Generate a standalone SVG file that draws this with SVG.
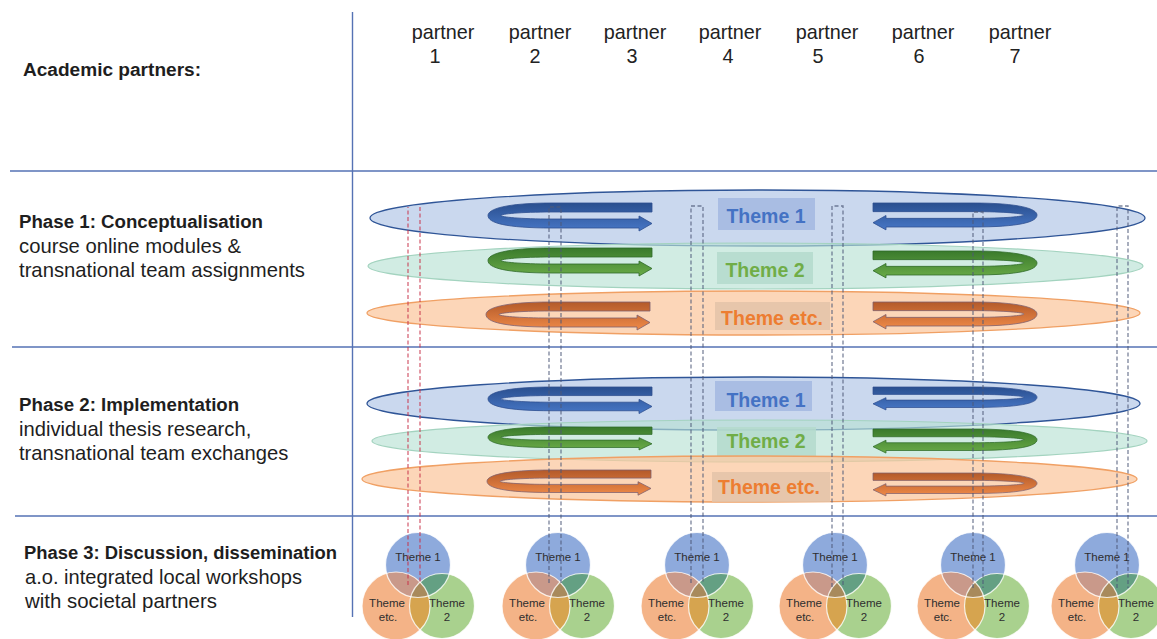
<svg xmlns="http://www.w3.org/2000/svg" xmlns:xlink="http://www.w3.org/1999/xlink" width="1157" height="639" viewBox="0 0 1157 639">
<style>
.grid{stroke:#5572b4;stroke-width:1.4;fill:none}
.lbl{font-family:"Liberation Sans",Arial,sans-serif;fill:#1e1e1e}
.b{font-weight:bold;font-size:18.7px}
.r{font-size:20.2px}
.ptn{font-family:"Liberation Sans",Arial,sans-serif;font-size:19.8px;fill:#222;text-anchor:middle}
.th{font-family:"Liberation Sans",Arial,sans-serif;font-weight:bold;font-size:19.5px;text-anchor:middle}
.vt{font-family:"Liberation Sans",Arial,sans-serif;font-size:11.5px;fill:#2e2e2e;text-anchor:middle}
.eb{fill:#b4c7e7;fill-opacity:.7;stroke:#2f5597;stroke-width:1.3}
.eg{fill:#b9e2d4;fill-opacity:.65;stroke:#a3d3bf;stroke-width:1.2}
.eo{fill:#fbc49a;fill-opacity:.7;stroke:#f0a064;stroke-width:1.3}
.dash{fill:none;stroke:#4d5a78;stroke-width:1.3;stroke-dasharray:4 2.5}
.dashr{fill:none;stroke:#c8324a;stroke-width:1.3;stroke-dasharray:4 2.5}
</style>
<defs>
<linearGradient id="gB" x1="0" y1="0" x2="0" y2="1"><stop offset="0" stop-color="#2a4f8f"/><stop offset="1" stop-color="#4777c6"/></linearGradient>
<linearGradient id="gG" x1="0" y1="0" x2="0" y2="1"><stop offset="0" stop-color="#3a7a2c"/><stop offset="1" stop-color="#6aab48"/></linearGradient>
<linearGradient id="gO" x1="0" y1="0" x2="0" y2="1"><stop offset="0" stop-color="#b35a2a"/><stop offset="1" stop-color="#ef8a48"/></linearGradient>
<path id="uarrow" d="M164,0 L64,0 C18,0 0,6 0,12.5 C0,20 18,25 64,25 L151,25 L151,28 L164,20.5 L151,13 L151,16 L64,16 C32,16 13,14 13,12.5 C13,11 32,9 64,9 L164,9 Z"/>
<clipPath id="cT1"><circle cx="0" cy="0" r="32.5"/></clipPath>
<clipPath id="cTE"><circle cx="-22" cy="41" r="34"/></clipPath>
<g id="venn">
<circle cx="0" cy="0" r="32.5" fill="#8eaadc"/>
<circle cx="-22" cy="41" r="34" fill="#f4b387"/>
<circle cx="24" cy="41" r="32.5" fill="#a9d18e"/>
<circle cx="-22" cy="41" r="34" fill="#c9998a" clip-path="url(#cT1)"/>
<circle cx="24" cy="41" r="32.5" fill="#64a083" clip-path="url(#cT1)"/>
<circle cx="24" cy="41" r="32.5" fill="#d6a44f" clip-path="url(#cTE)"/>
<g clip-path="url(#cT1)"><circle cx="24" cy="41" r="32.5" fill="#a88a5c" clip-path="url(#cTE)"/></g>
<g fill="none" stroke="#ffffff" stroke-width="1.2" stroke-opacity=".8">
<circle cx="0" cy="0" r="32.5"/><circle cx="-22" cy="41" r="34"/><circle cx="24" cy="41" r="32.5"/>
</g>
</g>
</defs>
<rect width="1157" height="639" fill="#ffffff"/>

<g id="grid">
<line class="grid" x1="352.5" y1="12" x2="352.5" y2="617"/>
<line class="grid" x1="10" y1="171" x2="1157" y2="171"/>
<line class="grid" x1="12" y1="347" x2="1157" y2="347"/>
<line class="grid" x1="15" y1="516" x2="1157" y2="516"/>
</g>

<g id="row-labels">
<text class="lbl b" x="23" y="76" textLength="178" lengthAdjust="spacingAndGlyphs">Academic partners:</text>
<text class="lbl b" x="19" y="228" textLength="244" lengthAdjust="spacingAndGlyphs">Phase 1: Conceptualisation</text>
<text class="lbl r" x="19" y="253" textLength="222" lengthAdjust="spacingAndGlyphs">course online modules &amp;</text>
<text class="lbl r" x="19" y="277" textLength="286" lengthAdjust="spacingAndGlyphs">transnational team assignments</text>
<text class="lbl b" x="19" y="411">Phase 2: Implementation</text>
<text class="lbl r" x="19" y="436">individual thesis research,</text>
<text class="lbl r" x="19" y="460">transnational team exchanges</text>
<text class="lbl b" x="24" y="559" textLength="313" lengthAdjust="spacingAndGlyphs">Phase 3: Discussion, dissemination</text>
<text class="lbl r" x="25" y="584" textLength="277" lengthAdjust="spacingAndGlyphs">a.o. integrated local workshops</text>
<text class="lbl r" x="25" y="608" textLength="192" lengthAdjust="spacingAndGlyphs">with societal partners</text>
</g>

<g id="partners">
<g id="partner1"><text class="ptn" x="443" y="39">partner</text><text class="ptn" x="435" y="63">1</text></g>
<g id="partner2"><text class="ptn" x="540" y="39">partner</text><text class="ptn" x="535" y="63">2</text></g>
<g id="partner3"><text class="ptn" x="635" y="39">partner</text><text class="ptn" x="632" y="63">3</text></g>
<g id="partner4"><text class="ptn" x="730" y="39">partner</text><text class="ptn" x="728" y="63">4</text></g>
<g id="partner5"><text class="ptn" x="827" y="39">partner</text><text class="ptn" x="818" y="63">5</text></g>
<g id="partner6"><text class="ptn" x="923" y="39">partner</text><text class="ptn" x="919" y="63">6</text></g>
<g id="partner7"><text class="ptn" x="1020" y="39">partner</text><text class="ptn" x="1015" y="63">7</text></g>
</g>

<g id="phase1-themes">
<g id="p1-theme1">
<ellipse class="eb" cx="757.5" cy="218" rx="387.5" ry="28"/>
<rect x="718" y="198" width="97" height="32" fill="#a3b8e0" fill-opacity=".85"/>
<text class="th" x="766" y="223" fill="#4472c4">Theme 1</text>
</g>
<g id="p1-theme2">
<ellipse class="eg" cx="755.5" cy="266" rx="387.5" ry="23"/>
<rect x="717" y="252" width="96" height="32" fill="#b4dbcd" fill-opacity=".85"/>
<text class="th" x="765" y="277" fill="#70ad47">Theme 2</text>
</g>
<g id="p1-themeetc">
<ellipse class="eo" cx="753.5" cy="313" rx="386.5" ry="22"/>
<rect x="715" y="302" width="115" height="28" fill="#e3c3a8" fill-opacity=".85"/>
<text class="th" x="772" y="325" fill="#ed7d31">Theme etc.</text>
</g>
</g>

<g id="phase2-themes">
<g id="p2-theme1">
<ellipse class="eb" cx="753.5" cy="403.5" rx="386.5" ry="26.5"/>
<rect x="715" y="381" width="97" height="30" fill="#a3b8e0" fill-opacity=".85"/>
<text class="th" x="766" y="407" fill="#4472c4">Theme 1</text>
</g>
<g id="p2-theme2">
<ellipse class="eg" cx="759.5" cy="441" rx="387.5" ry="21"/>
<rect x="717" y="427" width="99" height="30" fill="#b4dbcd" fill-opacity=".85"/>
<text class="th" x="766" y="448" fill="#70ad47">Theme 2</text>
</g>
<g id="p2-themeetc">
<ellipse class="eo" cx="749.5" cy="479" rx="387.5" ry="23"/>
<rect x="712" y="472" width="118" height="30" fill="#e3c3a8" fill-opacity=".85"/>
<text class="th" x="769" y="494" fill="#ed7d31">Theme etc.</text>
</g>
</g>

<g id="exchange-arrows">
<use href="#uarrow" transform="translate(488,203)" fill="url(#gB)" stroke="#2f4f8f" stroke-width="0.8"/>
<use href="#uarrow" transform="translate(488,248)" fill="url(#gG)" stroke="#2e6a28" stroke-width="0.8"/>
<use href="#uarrow" transform="translate(486,302)" fill="url(#gO)" stroke="#7d6070" stroke-width="0.8"/>
<use href="#uarrow" transform="translate(1037,203) scale(-1,0.96)" fill="url(#gB)" stroke="#2f4f8f" stroke-width="0.8"/>
<use href="#uarrow" transform="translate(1037,251) scale(-1,0.96)" fill="url(#gG)" stroke="#2e6a28" stroke-width="0.8"/>
<use href="#uarrow" transform="translate(1037,302) scale(-1,0.96)" fill="url(#gO)" stroke="#7d6070" stroke-width="0.8"/>
<use href="#uarrow" transform="translate(488,387) scale(1,0.95)" fill="url(#gB)" stroke="#2f4f8f" stroke-width="0.8"/>
<use href="#uarrow" transform="translate(488,427) scale(1,0.82)" fill="url(#gG)" stroke="#2e6a28" stroke-width="0.8"/>
<use href="#uarrow" transform="translate(487,470) scale(1,0.9)" fill="url(#gO)" stroke="#7d6070" stroke-width="0.8"/>
<use href="#uarrow" transform="translate(1037,387) scale(-1,0.82)" fill="url(#gB)" stroke="#2f4f8f" stroke-width="0.8"/>
<use href="#uarrow" transform="translate(1037,429) scale(-1,0.86)" fill="url(#gG)" stroke="#2e6a28" stroke-width="0.8"/>
<use href="#uarrow" transform="translate(1037,473) scale(-1,0.82)" fill="url(#gO)" stroke="#7d6070" stroke-width="0.8"/>
</g>

<g id="venn-diagrams">
<g id="venn1" transform="translate(418,565)"><use href="#venn"/>
<text class="vt" x="0" y="-4">Theme 1</text><text class="vt" x="-31" y="42">Theme</text><text class="vt" x="-30" y="56">etc.</text><text class="vt" x="29" y="42">Theme</text><text class="vt" x="29" y="56">2</text></g>
<g id="venn2" transform="translate(558,565)"><use href="#venn"/>
<text class="vt" x="0" y="-4">Theme 1</text><text class="vt" x="-31" y="42">Theme</text><text class="vt" x="-30" y="56">etc.</text><text class="vt" x="29" y="42">Theme</text><text class="vt" x="29" y="56">2</text></g>
<g id="venn3" transform="translate(697,565)"><use href="#venn"/>
<text class="vt" x="0" y="-4">Theme 1</text><text class="vt" x="-31" y="42">Theme</text><text class="vt" x="-30" y="56">etc.</text><text class="vt" x="29" y="42">Theme</text><text class="vt" x="29" y="56">2</text></g>
<g id="venn4" transform="translate(835,565)"><use href="#venn"/>
<text class="vt" x="0" y="-4">Theme 1</text><text class="vt" x="-31" y="42">Theme</text><text class="vt" x="-30" y="56">etc.</text><text class="vt" x="29" y="42">Theme</text><text class="vt" x="29" y="56">2</text></g>
<g id="venn5" transform="translate(973,565)"><use href="#venn"/>
<text class="vt" x="0" y="-4">Theme 1</text><text class="vt" x="-31" y="42">Theme</text><text class="vt" x="-30" y="56">etc.</text><text class="vt" x="29" y="42">Theme</text><text class="vt" x="29" y="56">2</text></g>
<g id="venn6" transform="translate(1107,565)"><use href="#venn"/>
<text class="vt" x="0" y="-4">Theme 1</text><text class="vt" x="-31" y="42">Theme</text><text class="vt" x="-30" y="56">etc.</text><text class="vt" x="29" y="42">Theme</text><text class="vt" x="29" y="56">2</text></g>
</g>

<g id="connectors" stroke-opacity="0.75">
<path class="dashr" d="M408,585 V207 M420,207 V583"/>
<path class="dash" d="M549,583 V207 H561 V583"/>
<path class="dash" d="M691,583 V206 H703 V583"/>
<path class="dash" d="M832,587 V206 H843 V587"/>
<path class="dash" d="M973,588 V212 H983 V588"/>
<path class="dash" d="M1117,588 V206 H1128 V588"/>
</g>
</svg>
